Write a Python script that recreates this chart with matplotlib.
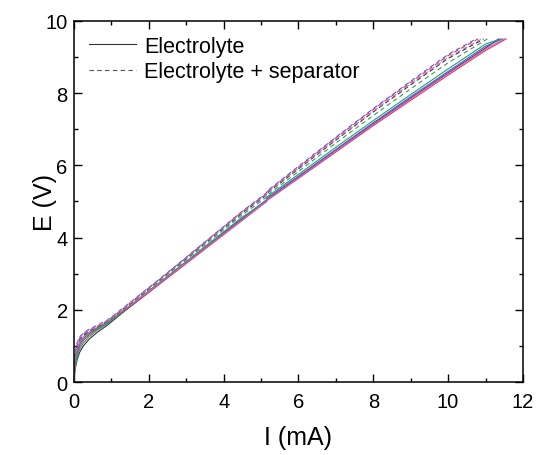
import numpy as np
import matplotlib.pyplot as plt
from matplotlib.ticker import MultipleLocator

plt.rcParams['font.family'] = ['Liberation Sans', 'DejaVu Sans']

# corriente comun (mA) antes del punto final de cada barrido
I_grid = [0, 0.03, 0.08, 0.15, 0.25, 0.4, 0.6, 0.9, 1.3, 1.8, 2.5, 3.5, 4.5,
          5.15, 5.15, 6, 7, 8, 9, 10]
I_grid_s = I_grid + [11]

# solo electrolito (lineas continuas)
E_black = [0.1, 0.35, 0.6, 0.82, 1.0, 1.18, 1.36, 1.58, 1.92, 2.33, 2.9, 3.71, 4.52,
           5.03, 5.06, 5.68, 6.42, 7.15, 7.86, 8.56, 9.25]
E_red = [0.0, 0.45, 0.75, 0.98, 1.15, 1.3, 1.45, 1.63, 1.93, 2.32, 2.88, 3.68, 4.48,
         5.0, 5.02, 5.64, 6.37, 7.1, 7.8, 8.5, 9.18]
E_blue = [0.05, 0.5, 0.82, 1.05, 1.2, 1.34, 1.48, 1.66, 1.96, 2.36, 2.92, 3.73, 4.54,
          5.05, 5.08, 5.7, 6.44, 7.18, 7.9, 8.6, 9.3]
E_green = [0.02, 0.38, 0.66, 0.9, 1.08, 1.25, 1.42, 1.62, 1.95, 2.36, 2.93, 3.75, 4.57,
           5.0, 5.12, 5.75, 6.5, 7.24, 7.96, 8.67, 9.36]
E_mag = [0.08, 0.55, 0.88, 1.1, 1.25, 1.38, 1.5, 1.67, 1.97, 2.35, 2.9, 3.7, 4.5,
         5.01, 5.04, 5.66, 6.4, 7.13, 7.84, 8.54, 9.22]
I_end_s = [11.35, 11.55, 11.45, 11.4, 11.5]

# electrolito + separador (lineas discontinuas)
Ed_black = [0.3, 0.75, 1.0, 1.18, 1.3, 1.4, 1.5, 1.68, 2.0, 2.42, 3.0, 3.84, 4.68,
            5.18, 5.22, 5.9, 6.7, 7.48, 8.23, 8.96]
Ed_red = [0.1, 0.7, 1.0, 1.2, 1.33, 1.43, 1.53, 1.7, 2.02, 2.44, 3.02, 3.87, 4.72,
          5.22, 5.26, 5.95, 6.76, 7.55, 8.3, 9.04]
Ed_blue = [0.2, 0.8, 1.08, 1.25, 1.36, 1.46, 1.56, 1.72, 2.04, 2.45, 3.03, 3.88, 4.73,
           5.24, 5.28, 5.97, 6.78, 7.57, 8.33, 9.07]
Ed_green = [0.05, 0.6, 0.92, 1.12, 1.26, 1.38, 1.49, 1.66, 1.98, 2.4, 2.97, 3.8, 4.63,
            5.12, 5.16, 5.83, 6.62, 7.38, 8.12, 8.84]
Ed_mag = [0.15, 0.72, 1.02, 1.22, 1.34, 1.44, 1.54, 1.7, 2.02, 2.43, 3.01, 3.85, 4.7,
          5.2, 5.24, 5.92, 6.72, 7.5, 8.26, 8.99]
I_end_d = [10.95, 10.8, 10.75, 11.05, 10.9]
E_max = 9.5

colores = ['#333333', '#e8334a', '#3b5fe0', '#2ca05a', '#d45ac8']

fig = plt.figure(figsize=(5.38, 4.56), dpi=100)
ax = fig.add_axes([0.1375, 0.160, 0.8345, 0.792])

for E, Iend, c in zip([E_black, E_red, E_blue, E_green, E_mag], I_end_s, colores):
    ax.plot(I_grid_s + [Iend], E + [E_max], color=c, lw=0.8)
for E, Iend, c in zip([Ed_black, Ed_red, Ed_blue, Ed_green, Ed_mag], I_end_d, colores):
    ax.plot(I_grid + [Iend], E + [E_max], color=c, lw=0.8, ls=(0, (4, 3)))

# leyenda
ax.plot([], [], color='#333333', lw=0.8, label='Electrolyte')
ax.plot([], [], color='#555555', lw=0.8, ls=(0, (4, 3)), label='Electrolyte + separator')
h, l = ax.get_legend_handles_labels()
ax.legend(h[-2:], l[-2:], loc='upper left', frameon=False, fontsize=15.5,
          handlelength=2.2, handletextpad=0.35, borderaxespad=0.3, labelspacing=0.2,
          bbox_to_anchor=(0.0, 1.0))

ax.set_xlim(0, 12)
ax.set_ylim(0, 10)
ax.xaxis.set_major_locator(MultipleLocator(2))
ax.xaxis.set_minor_locator(MultipleLocator(1))
ax.yaxis.set_major_locator(MultipleLocator(2))
ax.yaxis.set_minor_locator(MultipleLocator(1))
ax.tick_params(which='both', direction='in', top=True, right=True, labelsize=14.5, width=1)
ax.tick_params(which='major', length=6)
ax.tick_params(which='minor', length=3)
ax.tick_params(axis='x', which='major', pad=7)
ax.tick_params(axis='y', which='major', pad=4.5)
for s in ax.spines.values():
    s.set_linewidth(1.1)
ax.set_xlabel('I (mA)', fontsize=18, labelpad=10)
ax.set_ylabel('E (V)', fontsize=18, labelpad=-8)

fig.savefig('out.png', dpi=100)
